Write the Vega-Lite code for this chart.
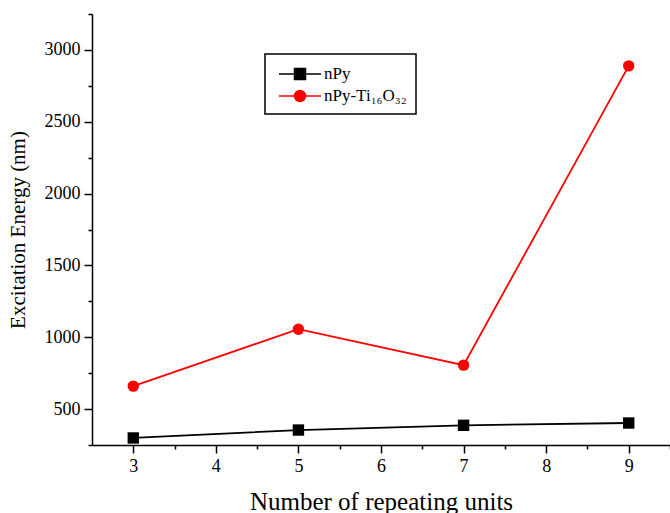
{
  "$schema": "https://vega.github.io/schema/vega-lite/v6.json",
  "width": 578,
  "height": 431,
  "autosize": {"type": "none"},
  "padding": {"left": 92, "top": 14, "right": 0, "bottom": 68},
  "background": "white",
  "config": {
    "view": {"stroke": null},
    "font": "Liberation Serif",
    "axis": {
      "domainColor": "black", "domainWidth": 1.5, "tickColor": "black", "tickWidth": 1.5,
      "labelFont": "Liberation Serif", "labelFontSize": 18, "labelColor": "black",
      "titleFont": "Liberation Serif", "titleFontWeight": "normal", "titleColor": "black",
      "grid": false
    }
  },
  "data": {
    "values": [
      {"n": 3, "energy": 299, "series": "nPy"},
      {"n": 5, "energy": 354, "series": "nPy"},
      {"n": 7, "energy": 387, "series": "nPy"},
      {"n": 9, "energy": 403, "series": "nPy"},
      {"n": 3, "energy": 660, "series": "nPy-Ti₁₆O₃₂"},
      {"n": 5, "energy": 1056, "series": "nPy-Ti₁₆O₃₂"},
      {"n": 7, "energy": 806, "series": "nPy-Ti₁₆O₃₂"},
      {"n": 9, "energy": 2889, "series": "nPy-Ti₁₆O₃₂"}
    ]
  },
  "encoding": {
    "x": {
      "field": "n", "type": "quantitative",
      "scale": {"domain": [2.5, 9.5], "nice": false, "zero": false},
      "axis": {
        "title": "Number of repeating units",
        "titleFontSize": 25,
        "values": [3, 3.5, 4, 4.5, 5, 5.5, 6, 6.5, 7, 7.5, 8, 8.5, 9, 9.5],
        "labelExpr": "datum.value % 1 === 0 ? format(datum.value, 'd') : ''",
        "tickSize": {"condition": {"test": "datum.value % 1 !== 0", "value": 4}, "value": 8},
        "labelPadding": 4,
        "titlePadding": 14
      }
    },
    "y": {
      "field": "energy", "type": "quantitative",
      "scale": {"domain": [250, 3250], "nice": false, "zero": false},
      "axis": {
        "title": "Excitation Energy (nm)",
        "titleFontSize": 21,
        "values": [250, 500, 750, 1000, 1250, 1500, 1750, 2000, 2250, 2500, 2750, 3000, 3250],
        "labelExpr": "datum.value % 500 === 0 ? format(datum.value, 'd') : ''",
        "tickSize": {"condition": {"test": "datum.value % 500 !== 0", "value": 4}, "value": 8},
        "labelPadding": 4,
        "titlePadding": 16
      }
    }
  },
  "layer": [
    {
      "mark": {"type": "line", "strokeWidth": 1.8},
      "encoding": {
        "stroke": {
          "field": "series", "type": "nominal",
          "scale": {"domain": ["nPy", "nPy-Ti₁₆O₃₂"], "range": ["black", "#ff0000"]},
          "legend": {
            "title": null,
            "orient": "none",
            "legendX": 173,
            "legendY": 40,
            "strokeColor": "black",
            "padding": 9,
            "labelFont": "Liberation Serif",
            "labelFontSize": 17,
            "labelColor": "black",
            "symbolSize": 400,
            "symbolStrokeWidth": 1.5,
            "symbolOffset": 15,
            "rowPadding": 2,
            "labelOffset": 13,
            "encode": {
              "legend": {"update": {"strokeWidth": {"value": 1.5}}},
              "symbols": {
                "update": {
                  "shape": {"signal": "datum.value === 'nPy' ? 'M-2.1,0H2.1M-0.55,-0.55H0.55V0.55H-0.55Z' : 'M-2.1,0H2.1M-0.55,0A0.55,0.55 0 1,0 0.55,0A0.55,0.55 0 1,0 -0.55,0Z'"},
                  "fill": {"signal": "datum.value === 'nPy' ? 'black' : '#ff0000'"},
                  "strokeWidth": {"value": 1.5}
                }
              }
            }
          }
        }
      }
    },
    {
      "mark": {"type": "point", "filled": true, "opacity": 1, "size": 130},
      "encoding": {
        "fill": {"condition": {"test": "datum.series === 'nPy'", "value": "black"}, "value": "#ff0000"},
        "shape": {"condition": {"test": "datum.series === 'nPy'", "value": "square"}, "value": "circle"}
      }
    }
  ]
}
